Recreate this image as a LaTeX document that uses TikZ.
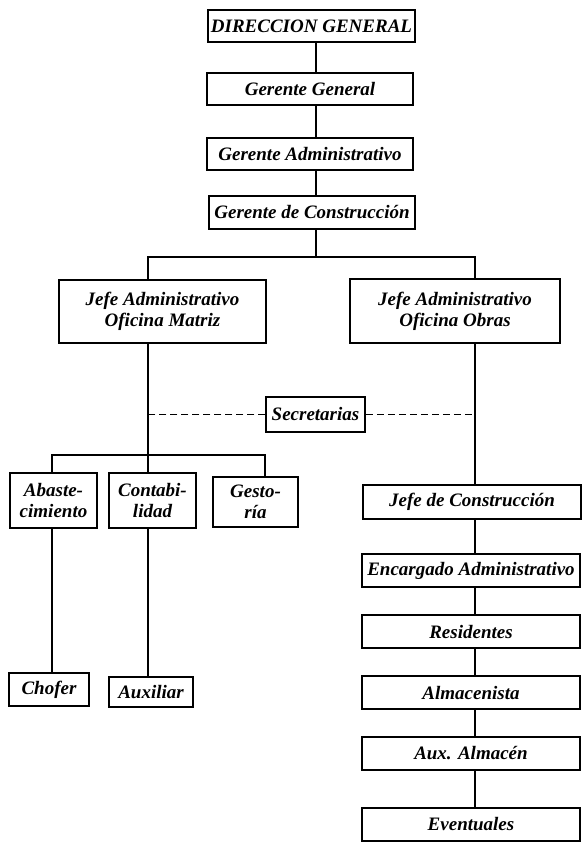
\documentclass[tikz,border=0pt]{standalone}
\usepackage{fontspec}
\setmainfont{Liberation Serif}
\begin{document}
\begin{tikzpicture}[x=1pt, y=-1pt]
\tikzset{
  box/.style={draw, line width=1.5pt, inner sep=0pt, align=center,
    font=\fontsize{19}{21}\selectfont\bfseries\itshape},
  link/.style={line width=1.5pt},
  dashlink/.style={line width=1.5pt, dash pattern=on 7pt off 4pt},
}
\useasboundingbox (0,0) rectangle (582,843);

% vertical guide lines
\coordinate (sx) at (316,0);
\coordinate (lx) at (148,0);
\coordinate (rx) at (475,0);
\coordinate (ax) at (52,0);
\coordinate (gx) at (265,0);
% branching points
\coordinate (b1) at (316,257);
\coordinate (b2) at (148,455);

% top chain
\node[box, minimum width=207pt, minimum height=32pt] (dg) at (311.5,26) {DIRECCION GENERAL};
\node[box, minimum width=206pt, minimum height=32pt] (gg) at (310,89) {Gerente General};
\node[box, minimum width=206pt, minimum height=32pt] (ga) at (310,154) {Gerente Administrativo};
\node[box, minimum width=206pt, minimum height=33pt] (gc) at (312,212.5) {Gerente de Construcción};

% heads of office
\node[box, minimum width=207pt, minimum height=63pt] (jm) at (162.5,311.5) {Jefe Administrativo\\Oficina Matriz};
\node[box, minimum width=210pt, minimum height=64pt] (jo) at (455,311) {Jefe Administrativo\\Oficina Obras};

\node[box, minimum width=99pt, minimum height=35pt] (sec) at (315.5,414.5) {Secretarias};

% main office departments
\node[box, minimum width=87pt, minimum height=55pt] (ab) at (53.5,500.5) {Abaste-\\cimiento};
\node[box, minimum width=87pt, minimum height=55pt] (co) at (152.5,500.5) {Contabi-\\lidad};
\node[box, minimum width=85pt, minimum height=50pt] (ge) at (255.5,502) {Gesto-\\ría};
\node[box, minimum width=80pt, minimum height=33pt] (ch) at (49,689.5) {Chofer};
\node[box, minimum width=84pt, minimum height=30pt] (au) at (151,692) {Auxiliar};

% works office chain
\node[box, minimum width=218pt, minimum height=34pt] (jc) at (472,502) {Jefe de Construcción};
\node[box, minimum width=218pt, minimum height=33pt] (ea) at (471,570.5) {Encargado Administrativo};
\node[box, minimum width=218pt, minimum height=33pt] (re) at (471,631.5) {Residentes};
\node[box, minimum width=218pt, minimum height=33pt] (al) at (471,692.5) {Almacenista};
\node[box, minimum width=218pt, minimum height=33pt] (ax2) at (471,753.5) {Aux. Almacén};
\node[box, minimum width=218pt, minimum height=33pt] (ev) at (471,824.5) {Eventuales};

% connectors
\draw[link] (dg.south -| sx) -- (gg.north -| sx);
\draw[link] (gg.south -| sx) -- (ga.north -| sx);
\draw[link] (ga.south -| sx) -- (gc.north -| sx);
\draw[link] (gc.south -| sx) -- (b1);
\draw[link] (jm.north -| lx) |- (b1) -| (jo.north -| rx);

\draw[link] (jm.south -| lx) -- (co.north -| lx);
\draw[link] (ab.north -| ax) |- (b2) -| (ge.north -| gx);
\draw[link] (ab.south -| ax) -- (ch.north -| ax);
\draw[link] (co.south -| lx) -- (au.north -| lx);

\draw[dashlink] (sec.west) -- (sec.west -| lx);
\draw[dashlink] (sec.east) -- (sec.east -| rx);

\draw[link] (jo.south -| rx) -- (jc.north -| rx);
\draw[link] (jc.south -| rx) -- (ea.north -| rx);
\draw[link] (ea.south -| rx) -- (re.north -| rx);
\draw[link] (re.south -| rx) -- (al.north -| rx);
\draw[link] (al.south -| rx) -- (ax2.north -| rx);
\draw[link] (ax2.south -| rx) -- (ev.north -| rx);
\end{tikzpicture}
\end{document}
